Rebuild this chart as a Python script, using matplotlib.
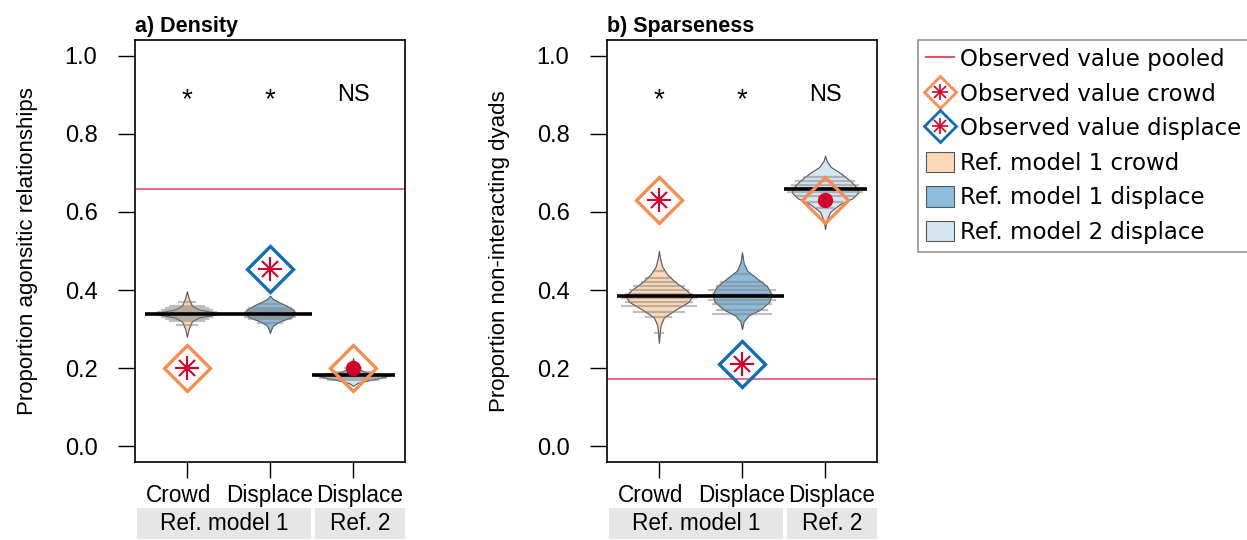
import matplotlib
matplotlib.use("Agg")
import matplotlib.pyplot as plt
from matplotlib.lines import Line2D
from matplotlib.patches import Patch, Rectangle
from matplotlib.transforms import blended_transform_factory, ScaledTranslation

plt.rcParams['font.family'] = ['Liberation Sans', 'DejaVu Sans']

categories = ['Crowd', 'Displace', 'Displace']
positions = [1, 2, 3]
sig_labels = ['*', '*', 'NS']

# observed values (crowd, displace, displace vs ref 2)
density_observed = [0.20, 0.455, 0.20]
sparse_observed = [0.63, 0.21, 0.63]
density_pooled = 0.658
sparse_pooled = 0.172
# reference model means: model 1 (crowd + displace), model 2
density_ref_means = [0.34, 0.182]
sparse_ref_means = [0.385, 0.658]

# violin outlines: values and half widths
density_violin_y = [
    [0.28, 0.30, 0.32, 0.33, 0.335, 0.34, 0.345, 0.35, 0.36, 0.38, 0.397],
    [0.29, 0.30, 0.31, 0.32, 0.33, 0.34, 0.35, 0.36, 0.37, 0.378, 0.386],
    [0.155, 0.162, 0.17, 0.175, 0.18, 0.185, 0.19, 0.20, 0.21, 0.226],
]
density_violin_w = [
    [0, 0.02, 0.06, 0.15, 0.28, 0.41, 0.28, 0.15, 0.06, 0.02, 0],
    [0, 0.015, 0.04, 0.12, 0.25, 0.30, 0.28, 0.20, 0.10, 0.03, 0],
    [0, 0.05, 0.20, 0.33, 0.40, 0.30, 0.15, 0.05, 0.02, 0],
]
sparse_violin_y = [
    [0.265, 0.29, 0.31, 0.33, 0.35, 0.37, 0.385, 0.40, 0.42, 0.44, 0.46, 0.48, 0.50],
    [0.30, 0.32, 0.335, 0.35, 0.37, 0.39, 0.41, 0.43, 0.45, 0.47, 0.497],
    [0.556, 0.58, 0.60, 0.62, 0.635, 0.65, 0.665, 0.68, 0.70, 0.715, 0.73, 0.744],
]
sparse_violin_w = [
    [0, 0.01, 0.02, 0.06, 0.20, 0.36, 0.40, 0.33, 0.20, 0.10, 0.04, 0.015, 0],
    [0, 0.02, 0.08, 0.22, 0.33, 0.355, 0.30, 0.18, 0.06, 0.02, 0],
    [0, 0.02, 0.06, 0.18, 0.33, 0.40, 0.37, 0.30, 0.18, 0.07, 0.02, 0],
]
# bean lines (simulated values) and their half lengths
density_beans = [
    [0.31, 0.32, 0.325, 0.33, 0.335, 0.34, 0.345, 0.35, 0.355, 0.36, 0.37],
    [0.315, 0.325, 0.33, 0.335, 0.34, 0.345, 0.35, 0.355, 0.365],
    [0.17, 0.175, 0.18, 0.185, 0.19, 0.20],
]
density_bean_len = [
    [0.12, 0.2, 0.25, 0.3, 0.35, 0.4, 0.35, 0.3, 0.25, 0.2, 0.1],
    [0.15, 0.25, 0.3, 0.3, 0.3, 0.3, 0.28, 0.25, 0.15],
    [0.3, 0.4, 0.45, 0.35, 0.2, 0.1],
]
sparse_beans = [
    [0.29, 0.33, 0.345, 0.36, 0.37, 0.38, 0.39, 0.40, 0.41, 0.42, 0.43, 0.45],
    [0.34, 0.35, 0.365, 0.375, 0.39, 0.40, 0.41, 0.42, 0.44],
    [0.61, 0.625, 0.64, 0.65, 0.66, 0.67, 0.68, 0.69],
]
sparse_bean_len = [
    [0.05, 0.15, 0.3, 0.45, 0.4, 0.45, 0.4, 0.35, 0.3, 0.2, 0.15, 0.05],
    [0.35, 0.3, 0.35, 0.4, 0.35, 0.4, 0.3, 0.25, 0.1],
    [0.1, 0.2, 0.35, 0.45, 0.45, 0.4, 0.35, 0.25],
]

violin_colors = ['#FDD9B8', '#8DBCDB', '#D3E6F2']
diamond_colors = ['#F98C50', '#0F6DB3', '#F98C50']
red = '#D3002B'
pooled_color = '#E5536E'


def draw_panel(ax, title, ylabel, observed, pooled, ref_means, vy, vw, beans, bean_len):
    ax.axhline(pooled, color=pooled_color, lw=1.2, zorder=1)
    for i, x in enumerate(positions):
        left = [x - w for w in vw[i]]
        right = [x + w for w in vw[i]]
        ax.fill_betweenx(vy[i], left, right, facecolor=violin_colors[i],
                         edgecolor='#555555', lw=0.8, zorder=2)
        for b, l in zip(beans[i], bean_len[i]):
            ax.plot([x - l, x + l], [b, b], color='#808080', alpha=0.5, lw=1.6, zorder=3)
    ax.hlines(ref_means[0], 0.5, 2.5, color='black', lw=2.6, zorder=4)
    ax.hlines(ref_means[1], 2.5, 3.5, color='black', lw=2.6, zorder=4)
    for i, x in enumerate(positions):
        ax.plot(x, observed[i], marker='D', ms=23, mfc='none', mec=diamond_colors[i],
                mew=2.4, zorder=5)
        if i < 2:
            ax.plot(x, observed[i], marker='+', ms=17, mec=red, mew=1.5, zorder=6)
            ax.plot(x, observed[i], marker='x', ms=12, mec=red, mew=1.5, zorder=6)
        else:
            ax.plot(x, observed[i], marker='o', ms=10, mfc=red, mec=red, zorder=6)
        if sig_labels[i] == '*':
            ax.text(x, 0.885, '*', ha='center', va='center', fontsize=20)
        else:
            ax.text(x, 0.9, sig_labels[i], ha='center', va='center', fontsize=17)

    ax.set_xlim(0.375, 3.625)
    ax.set_ylim(-0.04, 1.04)
    ax.set_yticks([0, 0.2, 0.4, 0.6, 0.8, 1.0])
    ax.set_yticklabels(['0.0', '0.2', '0.4', '0.6', '0.8', '1.0'])
    ax.set_xticks(positions)
    ax.set_xticklabels(categories)
    ax.tick_params(axis='y', length=12, width=1, pad=15, labelsize=17)
    ax.tick_params(axis='x', length=11.5, width=1, pad=4, labelsize=16.3)
    # the category labels sit slightly apart in the original
    for lab, dx in zip(ax.get_xticklabels(), [-8, 0, 7]):
        lab.set_transform(lab.get_transform() + ScaledTranslation(dx / 100, 0, fig.dpi_scale_trans))
    for s in ax.spines.values():
        s.set_linewidth(1.2)
    ax.set_ylabel(ylabel, fontsize=16, labelpad=19)
    ax.set_title(title, loc='left', fontweight='bold', fontsize=15.5, pad=6, x=0.0)

    trans = blended_transform_factory(ax.transData, ax.transAxes)
    for x0, x1, lab in [(0.40, 2.49, 'Ref. model 1'), (2.54, 3.625, 'Ref. 2')]:
        ax.add_patch(Rectangle((x0, -0.183), x1 - x0, 0.074, transform=trans,
                               facecolor='#E6E6E6', edgecolor='none', clip_on=False))
        ax.text((x0 + x1) / 2, -0.146, lab, transform=trans, ha='center', va='center',
                fontsize=16.3)


fig = plt.figure(figsize=(12.47, 5.4), dpi=100)
ax1 = fig.add_axes([135 / 1247, 78 / 540, 270 / 1247, 422 / 540])
ax2 = fig.add_axes([607 / 1247, 78 / 540, 270 / 1247, 422 / 540])

draw_panel(ax1, 'a) Density', 'Proportion agonsitic relationships', density_observed,
           density_pooled, density_ref_means, density_violin_y, density_violin_w,
           density_beans, density_bean_len)
draw_panel(ax2, 'b) Sparseness', 'Proportion non-interacting dyads', sparse_observed,
           sparse_pooled, sparse_ref_means, sparse_violin_y, sparse_violin_w,
           sparse_beans, sparse_bean_len)

# legend
def obs_handle(color):
    d = Line2D([], [], ls='none', marker='D', ms=16, mfc='none', mec=color, mew=2)
    p = Line2D([], [], ls='none', marker='+', ms=11, mec=red, mew=1.2)
    x = Line2D([], [], ls='none', marker='x', ms=8, mec=red, mew=1.2)
    return (d, p, x)

handles = [
    Line2D([], [], color=pooled_color, lw=1.5),
    obs_handle(diamond_colors[0]),
    obs_handle(diamond_colors[1]),
    Patch(facecolor=violin_colors[0], edgecolor='#555555', lw=0.8),
    Patch(facecolor=violin_colors[1], edgecolor='#555555', lw=0.8),
    Patch(facecolor=violin_colors[2], edgecolor='#555555', lw=0.8),
]
labels = ['Observed value pooled', 'Observed value crowd', 'Observed value displace',
          'Ref. model 1 crowd', 'Ref. model 1 displace', 'Ref. model 2 displace']
leg = fig.legend(handles, labels, loc='upper left', bbox_to_anchor=(918 / 1247, 1 - 40 / 540),
                 prop={'family': 'DejaVu Sans', 'size': 16.5}, frameon=True, fancybox=False,
                 edgecolor='#777777', handlelength=1.2, handleheight=1.0, handletextpad=0.3,
                 labelspacing=0.5, borderpad=0.35, borderaxespad=0)
leg.get_frame().set_linewidth(1.2)

fig.savefig('out.png', dpi=100)
